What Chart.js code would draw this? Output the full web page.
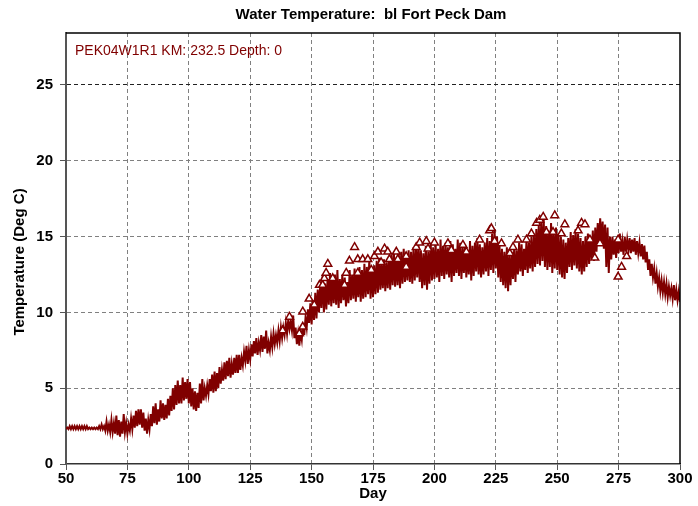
<!DOCTYPE html>
<html>
<head>
<meta charset="utf-8">
<script src="https://cdn.jsdelivr.net/npm/chart.js@4.4.0/dist/chart.umd.min.js"></script>
<style>
  html, body { margin: 0; padding: 0; background: #fff; }
  #wrap { width: 698px; height: 506px; }
</style>
</head>
<body>
<div id="wrap"><canvas id="temp" width="698" height="506"></canvas></div>
<script>
// simulated water temperature, one low and one high reading per day, days 50..300
const firstDay = 50;
const dailyLow = [
  2.3, 2.3, 2.3, 2.3, 2.3, 2.3, 2.3, 2.3, 2.3, 2.3,
  2.3, 2.3, 2.3, 2.3, 2.3, 2.3, 2.2, 2.2, 2.1, 2.1,
  2.0, 1.9, 1.8, 2.0, 2.1, 2.0, 2.2, 2.3, 2.4, 2.5,
  2.6, 2.4, 2.2, 2.0, 2.3, 2.5, 2.7, 2.6, 2.8, 3.0,
  2.9, 3.0, 3.2, 3.5, 3.6, 3.9, 4.0, 4.0, 4.2, 4.3,
  4.0, 3.8, 3.6, 3.5, 3.7, 4.0, 4.2, 4.5, 4.6, 4.8,
  4.7, 4.8, 5.0, 5.3, 5.5, 5.6, 5.8, 5.7, 5.9, 6.0,
  6.0, 6.2, 6.5, 6.8, 6.6, 6.9, 7.1, 7.3, 7.2, 7.5,
  7.4, 7.6, 7.3, 7.5, 7.7, 7.9, 8.0, 8.1, 8.3, 8.5,
  8.6, 8.9, 8.8, 8.3, 7.9, 7.8, 8.2, 8.5, 9.0, 9.3,
  9.2, 9.5, 9.6, 10.0, 10.3, 10.0, 10.2, 10.5, 10.4, 10.6,
  10.5, 10.3, 10.6, 10.8, 10.4, 10.6, 10.8, 10.9, 10.7, 11.0,
  10.7, 10.9, 11.0, 11.2, 10.9, 11.0, 11.2, 11.3, 11.5, 11.6,
  11.4, 11.6, 11.5, 11.8, 11.7, 11.8, 11.6, 11.9, 12.0, 12.1,
  12.0, 11.9, 12.1, 12.3, 12.0, 11.6, 11.8, 11.5, 11.9, 12.1,
  12.2, 12.3, 12.0, 12.4, 12.2, 12.5, 12.3, 12.0, 12.4, 12.6,
  12.4, 12.2, 12.6, 12.3, 12.5, 12.1, 12.4, 12.7, 12.5, 12.3,
  12.5, 12.7, 12.4, 12.8, 12.6, 12.9, 12.3, 12.0, 11.8, 11.6,
  11.4, 11.8, 12.2, 12.0, 12.5, 12.7, 12.4, 12.8, 12.6, 12.9,
  12.7, 13.0, 13.2, 13.1, 13.4, 13.0, 12.8, 13.0, 12.6, 12.9,
  12.8, 12.5, 12.3, 12.2, 12.6, 13.0, 12.8, 13.1, 12.9, 12.7,
  12.5, 12.7, 13.0, 13.2, 13.5, 13.4, 14.0, 14.5, 14.6, 14.2,
  13.0, 12.6, 13.5, 13.8, 13.6, 13.9, 14.0, 13.8, 14.0, 14.1,
  13.9, 14.0, 13.8, 13.9, 13.7, 13.5, 13.3, 12.8, 12.4, 12.3,
  11.9, 11.7, 11.4, 11.3, 11.2, 11.0, 11.1, 10.9, 10.8, 10.8,
  10.7
];
const dailyHigh = [
  2.4, 2.5, 2.5, 2.5, 2.5, 2.5, 2.5, 2.5, 2.5, 2.4,
  2.4, 2.4, 2.4, 2.5, 2.6, 2.5, 2.8, 2.6, 2.9, 2.7,
  3.2, 2.9, 2.8, 3.3, 2.7, 2.6, 3.0, 3.2, 3.5, 3.6,
  3.6, 3.4, 3.0, 2.9, 3.3, 3.8, 4.0, 3.6, 4.2, 4.0,
  3.9, 4.3, 4.5, 5.0, 5.2, 5.5, 5.2, 5.7, 5.4, 5.6,
  5.4, 5.0, 4.8, 4.7, 5.3, 5.6, 5.0, 5.2, 5.6, 5.9,
  6.1, 6.0, 6.4, 6.2, 6.7, 6.8, 7.0, 6.6, 7.0, 7.2,
  7.2, 7.0, 7.4, 7.8, 7.5, 7.9, 8.1, 8.3, 8.0, 8.5,
  8.4, 8.8, 8.0, 8.4, 8.6, 8.5, 8.8, 9.0, 9.0, 9.3,
  9.5, 9.4, 9.8, 9.0, 8.6, 8.7, 9.3, 9.6, 10.2, 10.6,
  10.8, 11.3, 11.5, 11.8, 12.5, 11.9, 12.2, 12.6, 12.3, 12.5,
  12.8, 12.2, 12.5, 12.3, 12.0, 12.8, 12.5, 12.9, 12.6, 13.0,
  12.8, 13.2, 13.0, 13.5, 12.9, 13.1, 13.4, 13.6, 13.2, 13.5,
  13.3, 13.6, 13.8, 14.0, 13.6, 13.9, 14.0, 14.2, 13.8, 14.1,
  14.0, 14.3, 14.2, 14.5, 14.1, 13.9, 14.4, 14.0, 14.6, 14.3,
  14.5, 14.2, 14.8, 14.4, 14.6, 14.3, 14.7, 14.5, 14.2, 14.8,
  14.6, 14.3, 14.5, 14.1, 14.7, 14.4, 14.6, 14.9, 14.5, 14.3,
  14.6, 14.9, 14.7, 15.2, 15.4, 15.0, 14.5, 14.2, 14.0, 14.3,
  13.8, 14.0, 14.3, 14.1, 14.6, 14.5, 14.2, 14.8, 14.6, 15.0,
  15.1, 15.5, 15.8, 16.0, 16.2, 15.7, 15.4, 15.9, 15.3, 15.6,
  15.2, 15.0, 14.8, 14.6, 14.9, 15.3, 15.1, 15.5, 15.2, 14.9,
  14.7, 15.0, 15.2, 15.0, 15.4, 15.6, 15.9, 16.2, 16.0, 15.8,
  15.6, 15.0, 15.0, 14.8, 14.9, 15.2, 14.7, 15.0, 14.8, 14.9,
  14.8, 14.9, 14.7, 14.6, 14.5, 14.4, 14.0, 13.5, 13.2, 12.9,
  12.6, 12.3, 12.1, 12.0, 11.9, 11.7, 11.6, 11.8, 11.5, 11.4,
  11.2
];

// observed samples (triangles)
const obsDay = [
  138.2, 141, 145, 146.4, 146.4, 149, 151.1, 153.2, 154.5, 155.2,
  155.9, 156.6, 158.6, 163.4, 164.1, 165.4, 167.5, 168.8, 168.8, 170.8,
  172.9, 174.3, 175.6, 177, 178.3, 179.7, 181, 181.7, 184.5, 185.1,
  188.5, 188.5, 192.6, 194, 196.7, 197.4, 200, 205.5, 206.9, 211.6,
  213, 218.4, 222.5, 223.2, 224.5, 227.3, 230.7, 232, 234, 237.5,
  239.5, 241.6, 242.9, 244.3, 245.6, 248.3, 249, 251.7, 253.1, 258.5,
  259.9, 261.3, 263.3, 265.3, 267.4, 274.8, 276.2, 278.3, 274.8
];
const obsTemp = [
  8.8, 9.7, 8.6, 9.05, 10.05, 10.9, 10.5, 11.8, 11.8, 12.25,
  12.6, 13.2, 12.25, 11.8, 12.6, 13.4, 14.3, 12.6, 13.5, 13.5,
  13.5, 12.8, 13.7, 14.0, 13.3, 14.2, 14.0, 13.5, 14.0, 13.5,
  13.7, 13.0, 14.3, 14.6, 14.7, 14.2, 14.6, 14.55, 14.1, 14.45,
  14.0, 14.8, 15.4, 15.55, 14.7, 14.55, 13.9, 14.3, 14.8, 14.8,
  15.2, 15.9, 16.1, 16.3, 15.3, 15.3, 16.4, 15.2, 15.8, 15.4,
  15.9, 15.8, 14.8, 13.6, 14.55, 12.35, 13.0, 13.7, 14.8
];

const yTicks = [0, 5, 10, 15, 20, 25];
const xTicks = [50, 75, 100, 125, 150, 175, 200, 225, 250, 275, 300];

const lineData = [];
dailyLow.forEach((lo, i) => {
  lineData.push({x: firstDay + i, y: lo});
  lineData.push({x: firstDay + i + 0.5, y: dailyHigh[i]});
});
const obsData = obsDay.map((d, i) => ({x: d, y: obsTemp[i]}));

const maroon = '#800000';
const tickFont = {family: 'Liberation Sans, Arial', size: 15, weight: 'bold'};

// title, legend text, axis titles and the frame
const decor = {
  id: 'decor',
  afterDraw(chart) {
    const ctx = chart.ctx;
    const a = chart.chartArea;
    ctx.save();
    ctx.strokeStyle = '#000';
    ctx.lineWidth = 1.5;
    ctx.beginPath();
    ctx.moveTo(a.left, a.top);
    ctx.lineTo(a.right, a.top);
    ctx.lineTo(a.right, a.bottom);
    ctx.stroke();

    ctx.fillStyle = '#000';
    ctx.textAlign = 'center';
    ctx.textBaseline = 'middle';
    ctx.font = 'bold 15px Liberation Sans, Arial';
    ctx.fillText('Water Temperature:  bl Fort Peck Dam', 371, 15);
    ctx.fillText('Day', 373, 494);

    ctx.save();
    ctx.translate(20, 262);
    ctx.rotate(-Math.PI / 2);
    ctx.fillText('Temperature (Deg C)', 0, 0);
    ctx.restore();

    ctx.fillStyle = maroon;
    ctx.textAlign = 'left';
    ctx.font = '14px Liberation Sans, Arial';
    ctx.fillText('PEK04W1R1 KM: 232.5 Depth: 0', 75, 51);
    ctx.restore();
  }
};

const chart = new Chart(document.getElementById('temp').getContext('2d'), {
  type: 'scatter',
  data: {
    datasets: [
      {
        label: 'observed',
        data: obsData,
        order: 0,
        showLine: false,
        pointStyle: 'triangle',
        pointRadius: 4.5,
        pointBackgroundColor: '#fff',
        pointBorderColor: maroon,
        pointBorderWidth: 1.5
      },
      {
        label: 'simulated',
        data: lineData,
        order: 1,
        showLine: true,
        borderColor: maroon,
        borderWidth: 2,
        pointRadius: 0,
        tension: 0
      }
    ]
  },
  plugins: [decor],
  options: {
    responsive: false,
    animation: false,
    layout: {padding: {top: 33, right: 18, left: 0, bottom: 0}},
    plugins: {
      legend: {display: false},
      title: {display: false},
      tooltip: {enabled: false}
    },
    scales: {
      x: {
        type: 'linear',
        min: 50,
        max: 300,
        afterBuildTicks: s => { s.ticks = xTicks.map(v => ({value: v})); },
        afterFit: s => { s.height = 42; },
        ticks: {color: '#000', font: tickFont, padding: 0, maxRotation: 0, autoSkip: false},
        grid: {
          color: c => (c.tick && (c.tick.value === 50 || c.tick.value === 300)) ? 'rgba(0,0,0,0)' : '#808080',
          tickColor: '#555',
          tickLength: 6,
          lineWidth: 1
        },
        border: {display: true, color: '#333', width: 1.5, dash: [4, 3]}
      },
      y: {
        min: 0,
        max: 28.43,
        afterBuildTicks: s => { s.ticks = yTicks.map(v => ({value: v})); },
        afterFit: s => { s.width = 66; },
        ticks: {color: '#000', font: tickFont, padding: 7},
        grid: {
          color: c => {
            if (!c.tick) return '#808080';
            if (c.tick.value === 0) return 'rgba(0,0,0,0)';
            if (c.tick.value === 25) return '#222';
            return '#808080';
          },
          tickColor: '#555',
          tickLength: 6,
          lineWidth: 1
        },
        border: {display: true, color: '#555', width: 2, dash: [4, 3]}
      }
    }
  }
});
</script>
</body>
</html>
